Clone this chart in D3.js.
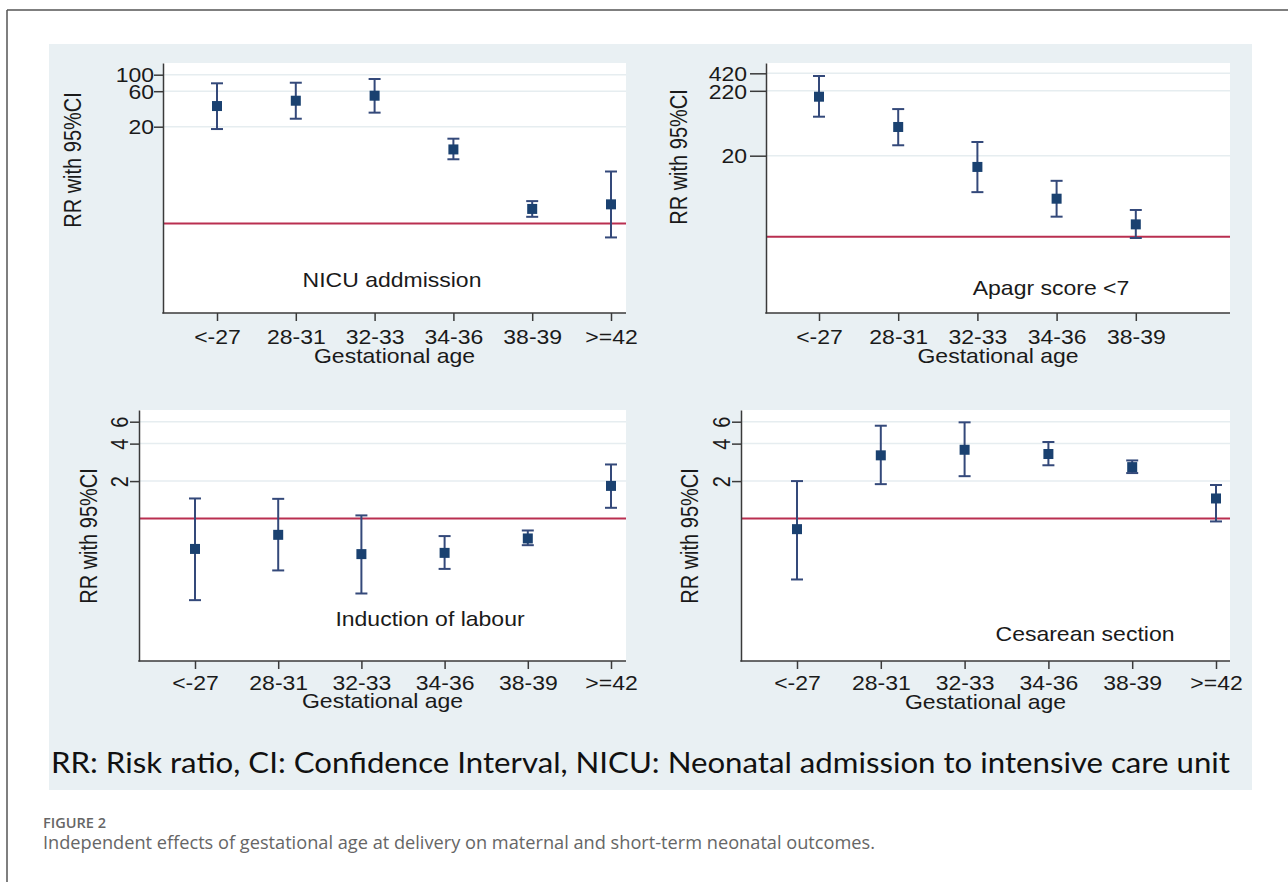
<!DOCTYPE html>
<html>
<head>
<meta charset="utf-8">
<script src="https://d3js.org/d3.v7.min.js"></script>
<style>
  body { margin: 0; background: #fff; }
  svg text { font-family: "Liberation Sans", Arial, sans-serif; }
</style>
</head>
<body>
<script>
var categories = ["<-27", "28-31", "32-33", "34-36", "38-39", ">=42"];

// NICU admission
var nicuRR    = [37.9, 44.7, 52.2, 9.9, 1.57, 1.81];
var nicuLower = [18.6, 25.6, 30.9, 7.3, 1.23, 0.65];
var nicuUpper = [76.6, 78.0, 87.5, 13.8, 2.0, 5.0];
var nicuTicks = [20, 60, 100];

// Apgar score <7 (no >=42 group)
var apgarRR    = [177, 57.8, 13.2, 4.08, 1.58];
var apgarLower = [84.5, 29.4, 5.2, 2.10, 0.955];
var apgarUpper = [380, 112, 33.2, 7.9, 2.69];
var apgarTicks = [20, 220, 420];

// Induction of labour
var iolRR    = [0.570, 0.740, 0.518, 0.530, 0.692, 1.83];
var iolLower = [0.221, 0.383, 0.250, 0.394, 0.611, 1.22];
var iolUpper = [1.45, 1.44, 1.06, 0.723, 0.802, 2.72];
var iolTicks = [2, 4, 6];

// Cesarean section
var csRR    = [0.822, 3.22, 3.57, 3.30, 2.59, 1.45];
var csLower = [0.324, 1.89, 2.19, 2.68, 2.32, 0.948];
var csUpper = [2.0, 5.57, 5.93, 4.12, 2.93, 1.86];
var csTicks = [2, 4, 6];

var yTitle = "RR with 95%CI";
var xTitle = "Gestational age";
var note = "RR: Risk ratio, CI: Confidence Interval, NICU: Neonatal admission to intensive care unit";
var figLabel = "FIGURE 2";
var figCaption = "Independent effects of gestational age at delivery on maternal and short-term neonatal outcomes.";

// the picture is stretched sideways a bit
var sx = 1.15;

var panels = [
  {label: "NICU addmission", rr: nicuRR, lo: nicuLower, hi: nicuUpper, ticks: nicuTicks,
   left: 163, right: 626, top: 63, bottom: 313, x0: 217, x1: 611, dom: [0.0627, 143.6],
   tick: 9, pad: 9, rotated: false, titleX: 81, titleY: 160, labelX: 392, labelY: 287,
   xlabY: 31, xtitleY: 363},
  {label: "Apagr score <7", rr: apgarRR, lo: apgarLower, hi: apgarUpper, ticks: apgarTicks,
   left: 766, right: 1230, top: 63, bottom: 313, x0: 819, x1: 1215, dom: [0.0597, 615],
   tick: 16, pad: 19, rotated: false, titleX: 687, titleY: 157, labelX: 1051, labelY: 295,
   xlabY: 31, xtitleY: 363},
  {label: "Induction of labour", rr: iolRR, lo: iolLower, hi: iolUpper, ticks: iolTicks,
   left: 139, right: 626, top: 410, bottom: 661, x0: 195, x1: 611, dom: [0.0717, 7.45],
   tick: 9, pad: 10, rotated: true, titleX: 97, titleY: 536, labelX: 430, labelY: 626,
   xlabY: 29, xtitleY: 708},
  {label: "Cesarean section", rr: csRR, lo: csLower, hi: csUpper, ticks: csTicks,
   left: 741, right: 1230, top: 410, bottom: 661, x0: 797, x1: 1216, dom: [0.0717, 7.45],
   tick: 9, pad: 10, rotated: true, titleX: 698, titleY: 536, labelX: 1085, labelY: 641,
   xlabY: 29, xtitleY: 709}
];

var svg = d3.select("body").append("svg")
    .attr("width", 1288)
    .attr("height", 882);

// page frame
svg.append("line").attr("x1", 7).attr("y1", 10).attr("x2", 1288).attr("y2", 10)
    .attr("stroke", "#555").attr("stroke-width", 1.5);
svg.append("line").attr("x1", 7).attr("y1", 10).attr("x2", 7).attr("y2", 882)
    .attr("stroke", "#555").attr("stroke-width", 1.5);

// graph region
svg.append("rect").attr("x", 49).attr("y", 44).attr("width", 1203).attr("height", 746)
    .attr("fill", "#e9f0f3");

panels.forEach(function(p) {
    var g = svg.append("g");

    var x = d3.scalePoint().domain(categories).range([p.x0, p.x1]);
    var y = d3.scaleLog().domain(p.dom).range([p.bottom, p.top]);

    var rows = p.rr.map(function(v, i) {
        return {cat: categories[i], rr: v, lo: p.lo[i], hi: p.hi[i]};
    });

    // plot region
    g.append("rect")
        .attr("x", p.left).attr("y", p.top)
        .attr("width", p.right - p.left).attr("height", p.bottom - p.top)
        .attr("fill", "#fff");

    // grid
    g.selectAll(".grid").data(p.ticks).enter().append("line")
        .attr("x1", p.left).attr("x2", p.right)
        .attr("y1", function(d) { return y(d); })
        .attr("y2", function(d) { return y(d); })
        .attr("stroke", "#e6edf0").attr("stroke-width", 1.5);

    // reference line at RR = 1
    g.append("line")
        .attr("x1", p.left).attr("x2", p.right)
        .attr("y1", y(1)).attr("y2", y(1))
        .attr("stroke", "#b92f50").attr("stroke-width", 2);

    // y axis
    var ya = g.append("g")
        .attr("transform", "translate(" + p.left + ",0)")
        .call(d3.axisLeft(y).tickValues(p.ticks).tickFormat(d3.format("d"))
            .tickSize(p.tick).tickSizeOuter(0));
    ya.select(".domain").attr("stroke", "#3a3a3a").attr("stroke-width", 1.5);
    ya.selectAll(".tick line").attr("stroke", "#3a3a3a").attr("stroke-width", 1.5);
    var yt = ya.selectAll(".tick text").attr("font-size", 20).attr("fill", "#1a1a1a");
    if (p.rotated) {
        yt.attr("x", null).attr("dy", null).attr("text-anchor", "middle")
          .attr("transform", "translate(" + (-p.pad - 1) + ",0) scale(" + sx + ",1) rotate(-90)");
    } else {
        yt.attr("x", -p.pad / sx).attr("dy", "0.36em")
          .attr("transform", "scale(" + sx + ",1)");
    }

    // x axis
    var present = rows.map(function(d) { return d.cat; });
    var xa = g.append("g")
        .attr("transform", "translate(0," + p.bottom + ")")
        .call(d3.axisBottom(x).tickValues(present).tickSize(8).tickSizeOuter(0));
    xa.select(".domain").remove();
    xa.selectAll(".tick line").attr("stroke", "#3a3a3a").attr("stroke-width", 1.5);
    xa.selectAll(".tick text").attr("font-size", 20).attr("fill", "#1a1a1a")
        .attr("y", null).attr("dy", null)
        .attr("transform", "translate(0," + p.xlabY + ") scale(" + sx + ",1)");
    g.append("line")
        .attr("x1", p.left - 0.75).attr("x2", p.right)
        .attr("y1", p.bottom).attr("y2", p.bottom)
        .attr("stroke", "#3a3a3a").attr("stroke-width", 1.5);

    // error bars
    var bars = g.selectAll(".ci").data(rows).enter().append("g");
    bars.append("line")
        .attr("x1", function(d) { return x(d.cat); })
        .attr("x2", function(d) { return x(d.cat); })
        .attr("y1", function(d) { return y(d.lo); })
        .attr("y2", function(d) { return y(d.hi); });
    bars.append("line")
        .attr("x1", function(d) { return x(d.cat) - 6; })
        .attr("x2", function(d) { return x(d.cat) + 6; })
        .attr("y1", function(d) { return y(d.lo); })
        .attr("y2", function(d) { return y(d.lo); });
    bars.append("line")
        .attr("x1", function(d) { return x(d.cat) - 6; })
        .attr("x2", function(d) { return x(d.cat) + 6; })
        .attr("y1", function(d) { return y(d.hi); })
        .attr("y2", function(d) { return y(d.hi); });
    bars.selectAll("line").attr("stroke", "#34497a").attr("stroke-width", 2);

    // point estimates
    g.selectAll(".pt").data(rows).enter().append("rect")
        .attr("x", function(d) { return x(d.cat) - 5; })
        .attr("y", function(d) { return y(d.rr) - 5; })
        .attr("width", 10).attr("height", 10)
        .attr("fill", "#1a4170");

    // titles
    g.append("text")
        .attr("transform", "translate(" + p.titleX + "," + p.titleY + ") scale(" + sx + ",1) rotate(-90)")
        .attr("text-anchor", "middle").attr("font-size", 20).attr("fill", "#1a1a1a")
        .text(yTitle);
    g.append("text")
        .attr("transform", "translate(" + ((p.left + p.right) / 2) + "," + p.xtitleY + ") scale(" + sx + ",1)")
        .attr("text-anchor", "middle").attr("font-size", 20).attr("fill", "#1a1a1a")
        .text(xTitle);
    g.append("text")
        .attr("transform", "translate(" + p.labelX + "," + p.labelY + ") scale(" + sx + ",1)")
        .attr("text-anchor", "middle").attr("font-size", 20).attr("fill", "#1a1a1a")
        .text(p.label);
});

// abbreviations note
svg.append("text")
    .attr("x", 51).attr("y", 773)
    .attr("font-size", 28).attr("fill", "#111")
    .style("font-family", "Lato, 'Open Sans', sans-serif")
    .attr("textLength", 1179).attr("lengthAdjust", "spacingAndGlyphs")
    .text(note);

// figure caption
svg.append("text")
    .attr("x", 43).attr("y", 828)
    .attr("font-size", 14).attr("font-weight", 600).attr("fill", "#666")
    .style("font-family", "'Open Sans', sans-serif")
    .attr("textLength", 63).attr("lengthAdjust", "spacingAndGlyphs")
    .text(figLabel);
svg.append("text")
    .attr("x", 43).attr("y", 849)
    .attr("font-size", 18).attr("fill", "#666")
    .style("font-family", "'Open Sans', sans-serif")
    .attr("textLength", 832).attr("lengthAdjust", "spacingAndGlyphs")
    .text(figCaption);
</script>
</body>
</html>
